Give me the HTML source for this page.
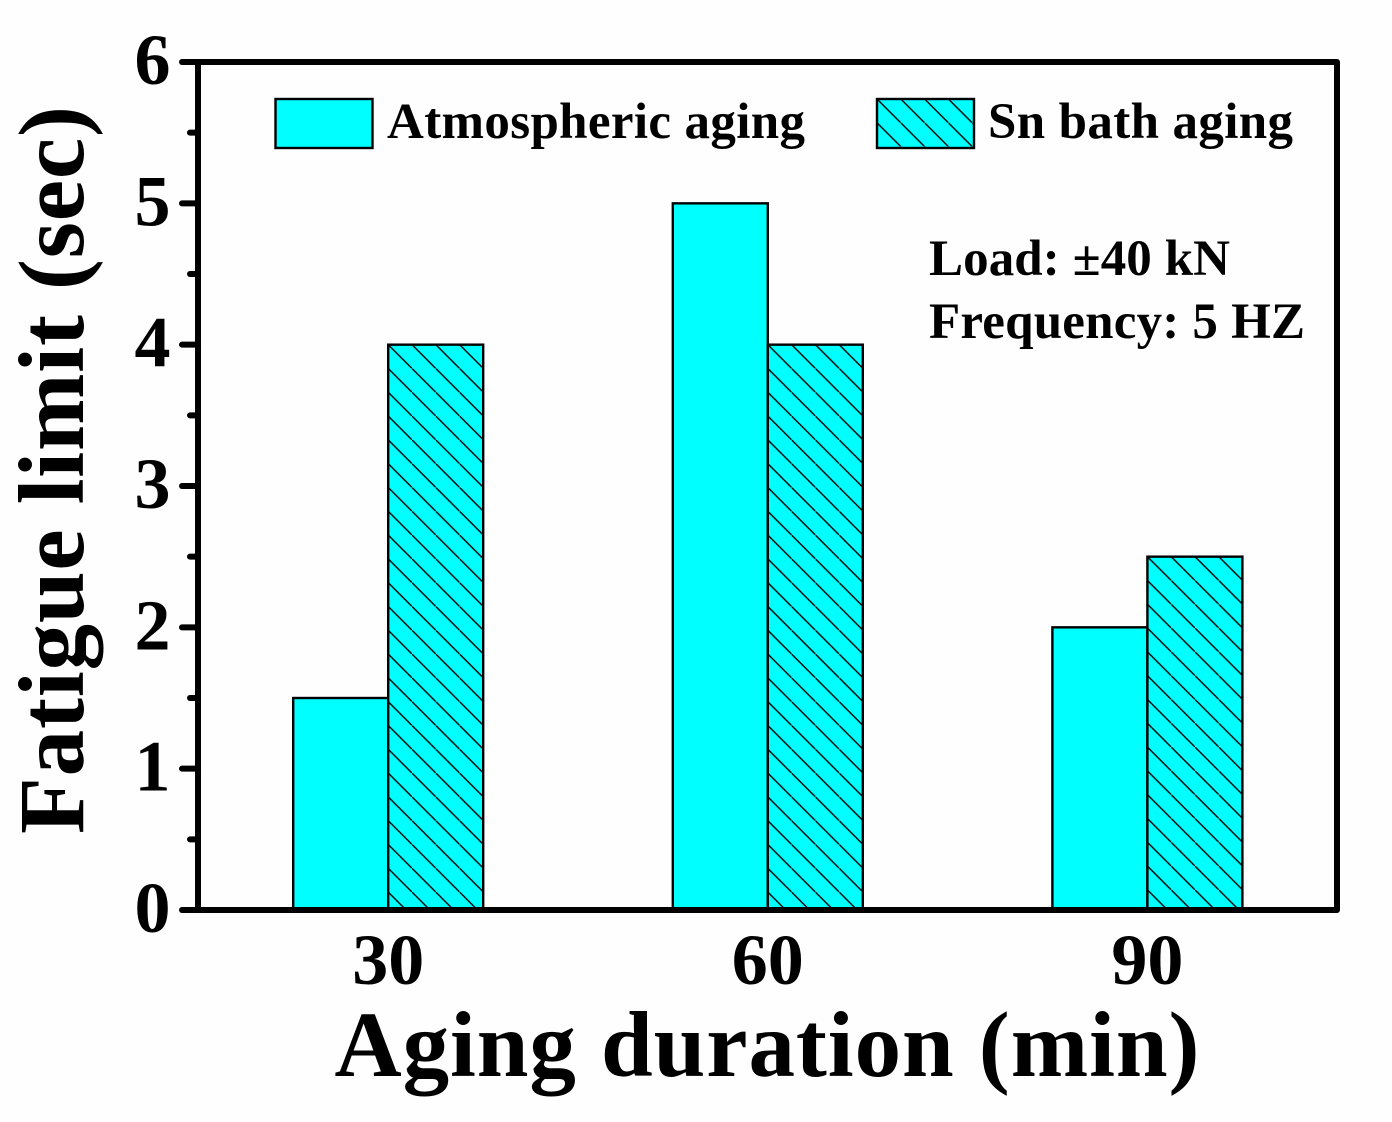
<!DOCTYPE html>
<html lang="en">
<head>
<meta charset="utf-8">
<title>Fatigue limit vs aging duration</title>
<style>
html,body{margin:0;padding:0;background:#fff;}
svg{display:block;}
text{font-family:"Liberation Serif",serif;font-weight:bold;fill:#000;}
</style>
</head>
<body>
<svg id="chart" xmlns="http://www.w3.org/2000/svg" width="1392" height="1122" viewBox="0 0 1392 1122">
  <rect x="0" y="0" width="1392" height="1122" fill="#fefefe"/>
  <defs id="defs">
    <pattern id="legend-hatch" patternUnits="userSpaceOnUse" x="877" y="99" width="23.8" height="23.8">
      <line x1="-2" y1="-2" x2="25.8" y2="25.8" stroke="#000" stroke-width="1.4"/>
    </pattern>
  </defs>
  <g id="bars"></g>
  <g id="axes"></g>
  <g>
    <rect x="275.5" y="99" width="97" height="49" fill="#00ffff" stroke="#000" stroke-width="2.4"/>
    <text x="387" y="138" font-size="51" textLength="418" lengthAdjust="spacing">Atmospheric aging</text>
    <rect x="877" y="99" width="97" height="49" fill="#00ffff"/>
    <rect x="877" y="99" width="97" height="49" fill="url(#legend-hatch)" stroke="#000" stroke-width="2.4"/>
    <text x="988" y="138" font-size="51" textLength="305" lengthAdjust="spacing">Sn bath aging</text>
  </g>
  <text x="929" y="275" font-size="51" textLength="301" lengthAdjust="spacing">Load: ±40 kN</text>
  <text x="929" y="338" font-size="51" textLength="376" lengthAdjust="spacing">Frequency: 5 HZ</text>
  <text x="767" y="1076" font-size="93" text-anchor="middle" textLength="865" lengthAdjust="spacing">Aging duration (min)</text>
  <text transform="translate(83 470) rotate(-90)" font-size="93" text-anchor="middle" textLength="728" lengthAdjust="spacing">Fatigue limit (sec)</text>
</svg>
<script>
var categories = ['30', '60', '90'];
var categoryValues = [30, 60, 90];
var atmosphericValues = [1.5, 5, 2];
var snBathValues = [4, 4, 2.5];
var yTickLabels = ['0', '1', '2', '3', '4', '5', '6'];
var yTickValues = [0, 1, 2, 3, 4, 5, 6];
var yMinorTickValues = [0.5, 1.5, 2.5, 3.5, 4.5, 5.5];

var NS = 'http://www.w3.org/2000/svg';
var plot = { left: 198, right: 1337, top: 62, bottom: 910 };
var yMax = 6;
var barWidth = 95;
var hatchStep = 23.8;

function yScale(v) {
  return plot.bottom - (v / yMax) * (plot.bottom - plot.top);
}
function xScale(minutes) {
  return 388.2 + ((minutes - 30) / 30) * 379.6;
}
function make(tag, attrs, parent) {
  var el = document.createElementNS(NS, tag);
  Object.keys(attrs).forEach(function (k) { el.setAttribute(k, attrs[k]); });
  parent.appendChild(el);
  return el;
}

var barsGroup = document.getElementById('bars');
var axesGroup = document.getElementById('axes');
var defs = document.getElementById('defs');

categories.forEach(function (cat, i) {
  var cx = xScale(categoryValues[i]);
  var a = atmosphericValues[i];
  var s = snBathValues[i];

  var barA = make('rect', {
    x: cx - barWidth, y: yScale(a), width: barWidth, height: yScale(0) - yScale(a),
    fill: '#00ffff', stroke: '#000', 'stroke-width': 2.4
  }, barsGroup);
  
  

  var pid = 'hatch-' + cat;
  var pat = make('pattern', {
    id: pid, patternUnits: 'userSpaceOnUse', x: cx, y: yScale(s),
    width: hatchStep, height: hatchStep
  }, defs);
  make('line', {
    x1: -2, y1: -2, x2: hatchStep + 2, y2: hatchStep + 2,
    stroke: '#000', 'stroke-width': 1.4
  }, pat);

  var barBase = make('rect', {
    x: cx, y: yScale(s), width: barWidth, height: yScale(0) - yScale(s), fill: '#00ffff'
  }, barsGroup);
  
  

  var barS = make('rect', {
    x: cx, y: yScale(s), width: barWidth, height: yScale(0) - yScale(s),
    fill: 'url(#' + pid + ')', stroke: '#000', 'stroke-width': 2.4
  }, barsGroup);
  
  

  var label = make('text', {
    x: cx, y: 984, 'font-size': 72, 'text-anchor': 'middle'
  }, axesGroup);
  label.textContent = cat;
  
  
});

var frame = make('rect', {
  x: plot.left, y: plot.top, width: plot.right - plot.left, height: plot.bottom - plot.top,
  fill: 'none', stroke: '#000', 'stroke-width': 6, 'stroke-linejoin': 'round'
}, axesGroup);



yTickValues.forEach(function (v, i) {
  var y = yScale(v);
  var tick = make('line', {
    x1: 182, x2: plot.left, y1: y, y2: y,
    stroke: '#000', 'stroke-width': 6, 'stroke-linecap': 'round'
  }, axesGroup);
  
  

  var label = make('text', {
    x: 152.5, y: y + 22, 'font-size': 72, 'text-anchor': 'middle'
  }, axesGroup);
  label.textContent = yTickLabels[i];
  
  
});

yMinorTickValues.forEach(function (v) {
  var y = yScale(v);
  var tick = make('line', {
    x1: 190, x2: plot.left, y1: y, y2: y,
    stroke: '#000', 'stroke-width': 6, 'stroke-linecap': 'round'
  }, axesGroup);
  
  
});
</script>
</body>
</html>
